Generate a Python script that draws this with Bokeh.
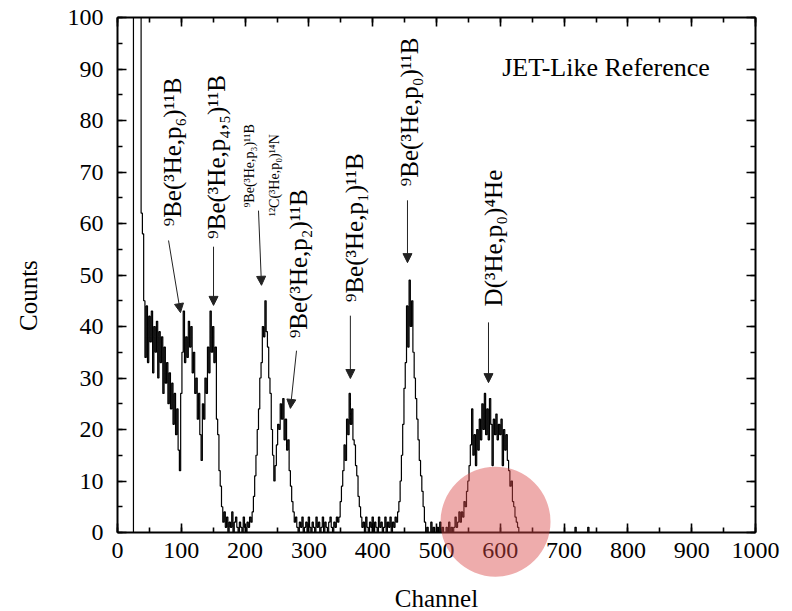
import math
from bokeh.plotting import figure
from bokeh.models import (Range1d, LinearAxis, SingleIntervalTicker, ColumnDataSource,
                          Arrow, NormalHead, Label)
from bokeh.core.properties import value
from bokeh.embed import file_html
from bokeh.resources import INLINE

# ---- data: spectrum counts in 2-channel bins (bin start channels 1, 3, 5, ...)
bin_width = 2
n_bins = 500
# each segment: counts, starting at the given channel
seg_head_start, seg_head = 1, [0, 0, 0, 0, 0, 0, 0, 0, 0, 0, 0, 0,
                               400, 400, 400, 400, 400, 400, 62, 58]
seg_a_start, seg_a = 41, [45, 34, 44, 33, 42, 37, 43, 31, 40, 35, 41, 30, 39, 33, 38,
                          27, 36, 29, 33, 25, 31, 24, 29, 21, 27, 19, 24, 16, 12]
seg_b_start, seg_b = 99, [27, 35, 43, 33, 38, 34, 41, 36, 40, 31, 35, 27, 30, 22, 27, 19,
                          14, 25, 22, 30, 27, 36, 31, 43, 35, 40, 33, 36, 22, 19, 12, 9]
seg_c_start, seg_c = 163, [5, 2, 4, 1, 3, 0, 2, 1, 4, 0, 2, 3, 1, 0, 2, 1, 0, 3, 1, 0,
                           2, 1, 3, 2]
seg_d_start, seg_d = 211, [4, 7, 11, 15, 20, 24, 30, 33, 40, 38, 45, 39, 36, 30, 27, 20,
                           15, 10, 13, 17, 21, 20, 25, 22, 26, 18, 22, 16, 18, 12, 9, 6,
                           4, 2, 3]
seg_e_start, seg_e = 281, [1, 0, 2, 1, 3, 0, 1, 2, 0, 3, 1, 0, 2, 1, 0, 3, 1, 2, 0, 1,
                           3, 0, 2, 1, 0, 2, 3, 1, 0, 2, 1, 3, 2]
seg_f_start, seg_f = 347, [3, 6, 9, 12, 17, 14, 22, 19, 27, 21, 24, 18, 17, 13, 11, 7, 5,
                           3, 1]
seg_g0_start, seg_g0 = 385, [2, 0, 3, 1, 0, 2, 1, 3, 0, 2, 1, 0, 3, 1, 2, 0, 1, 3, 0, 2,
                             1, 3, 0, 2, 1, 3, 2, 4]
seg_g_start, seg_g = 441, [6, 10, 15, 21, 28, 33, 44, 36, 49, 40, 45, 35, 30, 26, 22, 18,
                           14, 11, 8, 5, 2, 0]
seg_h0_start, seg_h0 = 485, [1, 0, 0, 2, 0, 1, 0, 0, 1, 0, 2, 0, 1, 0, 0, 1, 0, 2, 0, 1,
                             0, 1, 3, 1, 2, 4, 2, 4]
seg_h_start, seg_h = 541, [3, 6, 5, 8, 10, 13, 17, 24, 15, 19, 13, 20, 16, 22, 18, 25,
                           20, 27, 19, 24, 18, 26, 21, 13, 22, 19, 23, 18, 21, 19, 22,
                           13, 20, 16, 19, 14, 12, 9, 10, 6, 5, 3, 2, 1, 0]
tail_spike_channels = [717, 737]
tail_spike_counts = [1, 1]

channels = [1 + bin_width * i for i in range(n_bins)]
counts = [0] * n_bins
for start, seg in [(seg_head_start, seg_head), (seg_a_start, seg_a), (seg_b_start, seg_b),
                   (seg_c_start, seg_c), (seg_d_start, seg_d), (seg_e_start, seg_e),
                   (seg_f_start, seg_f), (seg_g0_start, seg_g0), (seg_g_start, seg_g),
                   (seg_h0_start, seg_h0), (seg_h_start, seg_h)]:
    i0 = (start - 1) // bin_width
    for k, v in enumerate(seg):
        counts[i0 + k] = v
for ch, v in zip(tail_spike_channels, tail_spike_counts):
    counts[(ch - 1) // bin_width] = v

x_ticks_interval = 100
y_ticks_interval = 10
x_title = "Channel"
y_title = "Counts"

labels_big = ["⁹Be(³He,p₆)¹¹B", "⁹Be(³He,p₄,₅)¹¹B", "⁹Be(³He,p₂)¹¹B",
              "⁹Be(³He,p₁)¹¹B", "⁹Be(³He,p₀)¹¹B", "D(³He,p₀)⁴He"]
labels_big_x = [86, 155, 284, 371, 458, 589]
labels_big_y = [59.4, 57.0, 37.7, 44.7, 67.2, 43.9]

labels_small = ["⁹Be(³He,p₃)¹¹B", "¹²C(³He,p₀)¹⁴N"]
labels_small_x = [207, 246]
labels_small_y = [63.1, 61.4]

arrow_x0 = [80, 150.5, 221, 280.6, 365, 454.5, 581.5]
arrow_y0 = [56.7, 55.5, 62.5, 35.3, 42.1, 64.5, 40.8]
arrow_x1 = [98.7, 150.5, 225.7, 271, 365, 454.5, 581.5]
arrow_y1 = [42.7, 44.1, 48.0, 24.1, 29.9, 52.4, 29.1]

FONT = "Liberation Serif"

p = figure(width=792, height=611, output_backend="svg", toolbar_location=None,
           x_range=Range1d(0, 1000), y_range=Range1d(0, 100),
           x_axis_location=None, y_axis_location=None,
           min_border_left=117, min_border_right=37, min_border_top=17, min_border_bottom=79)
p.outline_line_color = None
p.grid.visible = False
p.background_fill_color = "white"
p.border_fill_color = "white"

def make_axis(ticker, show_labels):
    ax = LinearAxis(ticker=ticker)
    ax.major_tick_in = 9
    ax.major_tick_out = 0
    ax.minor_tick_in = 5
    ax.minor_tick_out = 0
    ax.axis_line_width = 2
    ax.major_tick_line_width = 1.6
    ax.minor_tick_line_width = 1.6
    ax.axis_line_color = "black"
    ax.major_label_text_font = FONT
    ax.major_label_text_font_size = "24px"
    ax.major_label_text_color = "black"
    if not show_labels:
        ax.major_label_text_font_size = "0px"
        ax.major_label_text_color = None
    return ax

xt = SingleIntervalTicker(interval=x_ticks_interval, num_minor_ticks=2)
yt = SingleIntervalTicker(interval=y_ticks_interval, num_minor_ticks=2)

xb = make_axis(xt, True)
xb.major_label_standoff = 10
yl = make_axis(yt, True)
yl.major_label_standoff = 14
xa = make_axis(SingleIntervalTicker(interval=x_ticks_interval, num_minor_ticks=2), False)
yr = make_axis(SingleIntervalTicker(interval=y_ticks_interval, num_minor_ticks=2), False)
p.add_layout(xb, "below")
p.add_layout(yl, "left")
p.add_layout(xa, "above")
p.add_layout(yr, "right")

# axis titles, drawn as unclipped text outside the frame
tx = p.text(x=[500], y=[-12.8], text=[x_title], text_font=value(FONT),
            text_font_size="25px", text_align="center", text_baseline="middle",
            text_color="black")
tx.level = "overlay"
ty = p.text(x=[-139.5], y=[46.0], text=[y_title], angle=math.pi / 2,
            text_font=value(FONT), text_font_size="25px", text_align="center",
            text_baseline="middle", text_color="black")
ty.level = "overlay"

# spectrum
src = ColumnDataSource(dict(ch=channels, c=counts))
p.step(x="ch", y="c", source=src, mode="after", line_color="black", line_width=1.2)

# annotations
bsrc = ColumnDataSource(dict(x=labels_big_x, y=labels_big_y, t=labels_big))
p.text(x="x", y="y", text="t", source=bsrc, angle=math.pi / 2,
       text_font=value(FONT), text_font_size="25px", text_align="left",
       text_baseline="middle", text_color="black")
ssrc = ColumnDataSource(dict(x=labels_small_x, y=labels_small_y, t=labels_small))
p.text(x="x", y="y", text="t", source=ssrc, angle=math.pi / 2,
       text_font=value(FONT), text_font_size="14px", text_align="left",
       text_baseline="middle", text_color="black")

asrc = ColumnDataSource(dict(x0=arrow_x0, y0=arrow_y0, x1=arrow_x1, y1=arrow_y1))
p.add_layout(Arrow(end=NormalHead(size=9, fill_color="#222222", line_color="#222222"),
                   x_start="x0", y_start="y0", x_end="x1", y_end="y1", source=asrc,
                   line_color="#222222", line_width=1))

p.add_layout(Label(x=603, y=90.3, text="JET-Like Reference", text_font=FONT,
                   text_font_size="26px", text_baseline="middle", text_color="black"))

# highlight circle
circ = p.scatter(x=[592.5], y=[2.1], size=110, marker="circle",
                 fill_color="#d94848", fill_alpha=0.45, line_color=None)
circ.level = "overlay"

open("out.html", "w").write(file_html(p, INLINE))
